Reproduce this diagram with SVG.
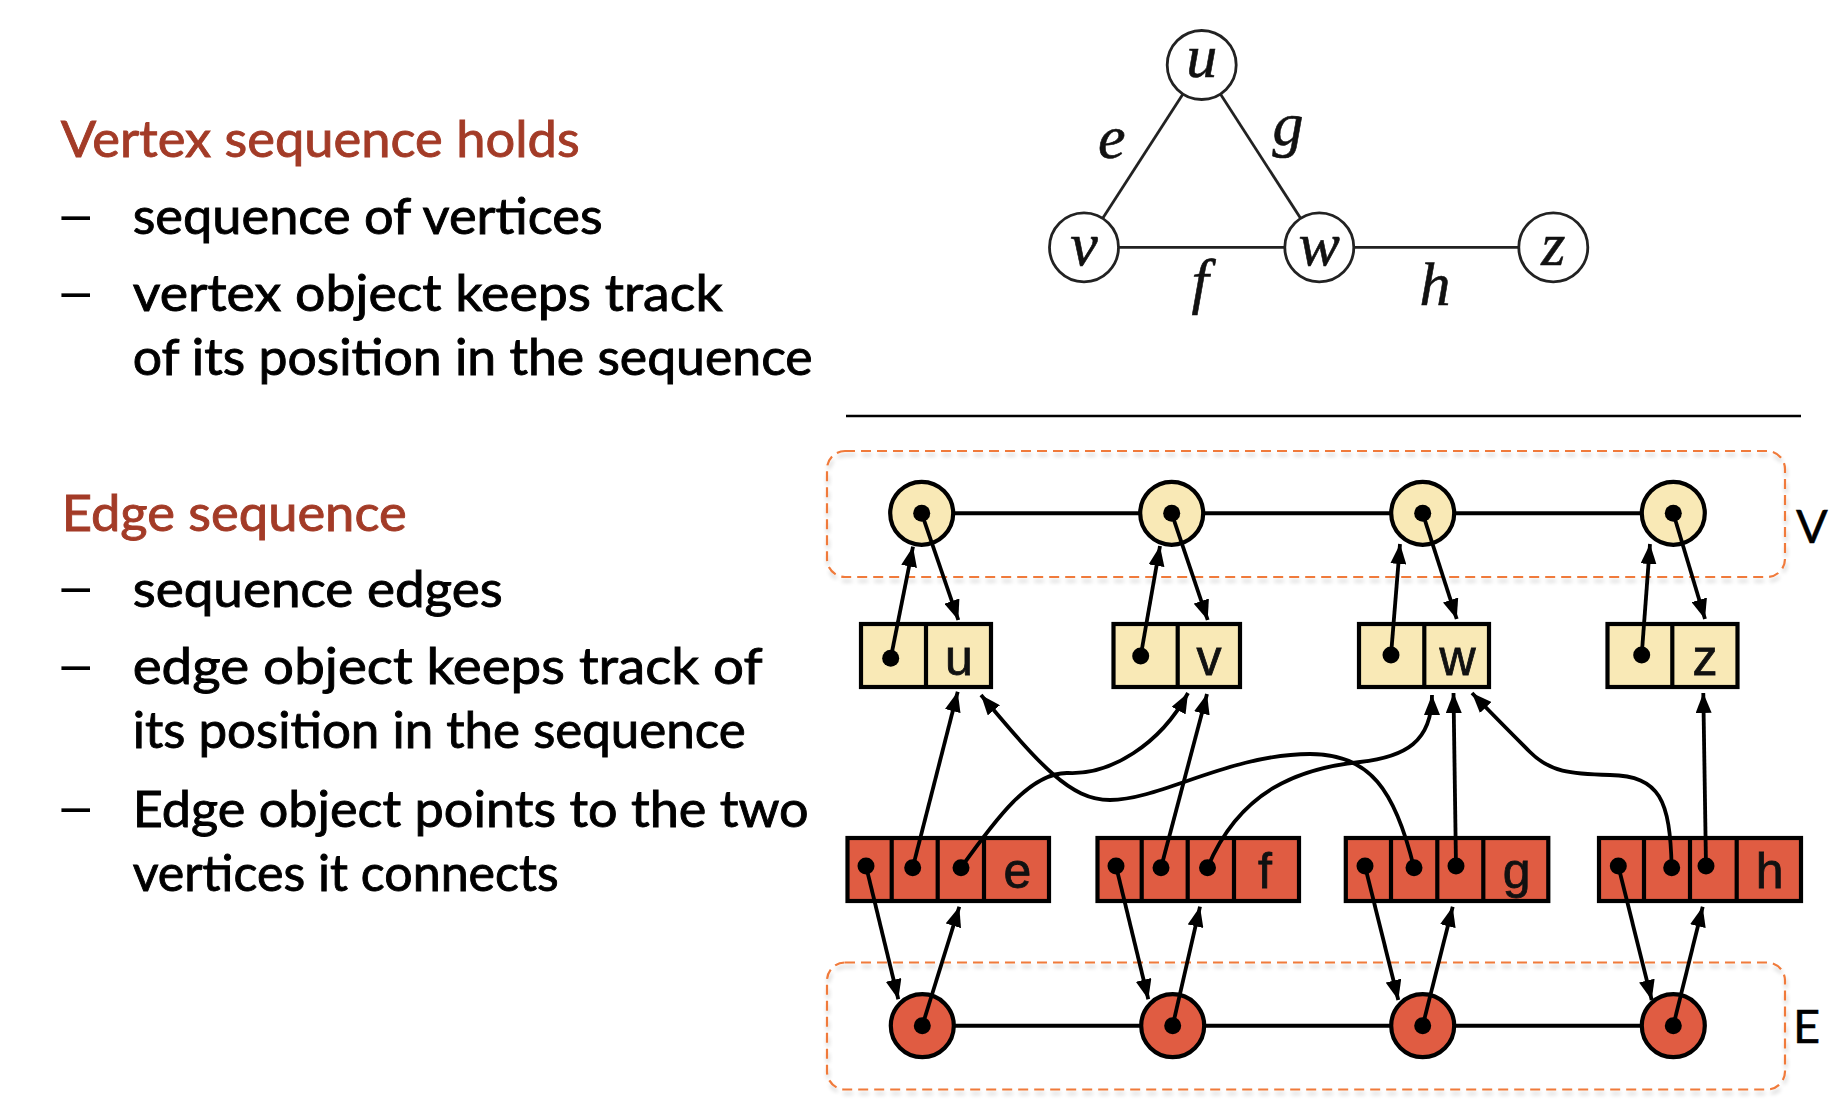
<svg xmlns="http://www.w3.org/2000/svg" width="1848" height="1120" viewBox="0 0 1848 1120">
<style>
.head{font-family:Lato,"Open Sans","Liberation Sans",sans-serif;font-size:51px;fill:#a33b27;stroke:#a33b27;stroke-width:0.9}
.body{font-family:Lato,"Open Sans","Liberation Sans",sans-serif;font-size:51px;fill:#000;stroke:#000;stroke-width:0.9}
.bul{font-family:Lato,"Open Sans","Liberation Sans",sans-serif;font-size:51px;fill:#000}
.gl{font-family:"Liberation Serif","DejaVu Serif",serif;font-style:italic;font-size:62px;fill:#111;stroke:#111;stroke-width:0.6;text-anchor:middle}
.gc{fill:#fff;stroke:#222;stroke-width:2.8}
.ge{stroke:#222;stroke-width:2.8;fill:none}
.lbl{font-family:"Liberation Sans",Arial,sans-serif;font-size:50px;fill:#111;stroke:#111;stroke-width:0.8;text-anchor:middle}
.side{font-family:Lato,"Liberation Sans",sans-serif;font-size:47px;fill:#000;stroke:#000;stroke-width:0.5}
.vc{fill:#f9e9b6;stroke:#000;stroke-width:4.2}
.ec{fill:#e05c42;stroke:#000;stroke-width:4.2}
.cell{stroke:#000;stroke-width:4.2}
.dot{fill:#000}
.chain{stroke:#000;stroke-width:4;fill:none}
.dash{fill:none;stroke:#f07a3a;stroke-width:2.2;stroke-dasharray:10 6}
.con{stroke:#000;stroke-width:3.8;fill:none;marker-end:url(#arr)}
</style>
<defs>
<marker id="arr" viewBox="0 0 20 16" refX="20" refY="8" markerWidth="20" markerHeight="16" markerUnits="userSpaceOnUse" orient="auto">
<path d="M0,0 L20,8 L0,16 z" fill="#000"/>
</marker>
<filter id="sh" x="-5%" y="-10%" width="110%" height="130%">
<feGaussianBlur in="SourceAlpha" stdDeviation="2"/>
<feOffset dx="1" dy="4"/>
<feComponentTransfer><feFuncA type="linear" slope="0.22"/></feComponentTransfer>
<feMerge><feMergeNode/><feMergeNode in="SourceGraphic"/></feMerge>
</filter>
</defs>
<rect width="1848" height="1120" fill="#fff"/>

<g id="left-text">
<text class="head" x="60.7" y="157.3" textLength="519" lengthAdjust="spacingAndGlyphs">Vertex sequence holds</text>
<text class="bul" transform="translate(55,235) scale(1.4,1.1)">–</text>
<text class="body" x="132.7" y="234" textLength="470" lengthAdjust="spacingAndGlyphs">sequence of vertices</text>
<text class="bul" transform="translate(55,311.7) scale(1.4,1.1)">–</text>
<text class="body" x="132.7" y="310.7" textLength="590" lengthAdjust="spacingAndGlyphs">vertex object keeps track</text>
<text class="body" x="132.7" y="375" textLength="680" lengthAdjust="spacingAndGlyphs">of its position in the sequence</text>
<text class="head" x="61.7" y="530.7" textLength="345" lengthAdjust="spacingAndGlyphs">Edge sequence</text>
<text class="bul" transform="translate(55,607.3) scale(1.4,1.1)">–</text>
<text class="body" x="132.7" y="607.3" textLength="370" lengthAdjust="spacingAndGlyphs">sequence edges</text>
<text class="bul" transform="translate(55,685) scale(1.4,1.1)">–</text>
<text class="body" x="132.7" y="684" textLength="630" lengthAdjust="spacingAndGlyphs">edge object keeps track of</text>
<text class="body" x="132.7" y="748.3" textLength="613" lengthAdjust="spacingAndGlyphs">its position in the sequence</text>
<text class="bul" transform="translate(55,826.7) scale(1.4,1.1)">–</text>
<text class="body" x="132.7" y="826.7" textLength="676" lengthAdjust="spacingAndGlyphs">Edge object points to the two</text>
<text class="body" x="132.7" y="890.7" textLength="426" lengthAdjust="spacingAndGlyphs">vertices it connects</text>
</g>

<g id="graph-edges">
<line class="ge" x1="1201.7" y1="65" x2="1084" y2="247.3"/>
<line class="ge" x1="1201.7" y1="65" x2="1319.3" y2="247.3"/>
<line class="ge" x1="1084" y1="247.3" x2="1319.3" y2="247.3"/>
<line class="ge" x1="1319.3" y1="247.3" x2="1553.3" y2="247.3"/>
<text class="gl" x="1111.7" y="158">e</text>
<text class="gl" x="1288" y="145">g</text>
<text class="gl" x="1200" y="302">f</text>
<text class="gl" x="1435" y="305">h</text>
</g>
<g id="graph-u"><circle class="gc" cx="1201.7" cy="65" r="34.5"/><text class="gl" x="1201.7" y="77">u</text></g>
<g id="graph-v"><circle class="gc" cx="1084" cy="247.3" r="34.5"/><text class="gl" x="1084" y="265">v</text></g>
<g id="graph-w"><circle class="gc" cx="1319.3" cy="247.3" r="34.5"/><text class="gl" x="1319.3" y="265">w</text></g>
<g id="graph-z"><circle class="gc" cx="1553.3" cy="247.3" r="34.5"/><text class="gl" x="1553.3" y="265">z</text></g>

<line id="rule" x1="846" y1="416" x2="1801" y2="416" stroke="#000" stroke-width="2.4"/>

<g id="V-container">
<rect class="dash" filter="url(#sh)" x="827" y="451" width="958" height="126" rx="18"/>
<text class="side" x="1796" y="542.7">V</text>
<line class="chain" x1="921.7" y1="513.3" x2="1673.3" y2="513.3"/>
</g>
<g id="E-container">
<rect class="dash" filter="url(#sh)" x="827" y="962.5" width="958" height="127" rx="18"/>
<text class="side" x="1793" y="1042.7">E</text>
<line class="chain" x1="922.3" y1="1025.7" x2="1673.3" y2="1025.7"/>
</g>

<g id="vpos-1"><circle class="vc" cx="921.7" cy="513.3" r="31.5"/><circle class="dot" cx="921.7" cy="513.3" r="8.5"/></g>
<g id="vpos-2"><circle class="vc" cx="1171.7" cy="513.3" r="31.5"/><circle class="dot" cx="1171.7" cy="513.3" r="8.5"/></g>
<g id="vpos-3"><circle class="vc" cx="1422.7" cy="513.3" r="31.5"/><circle class="dot" cx="1422.7" cy="513.3" r="8.5"/></g>
<g id="vpos-4"><circle class="vc" cx="1673.3" cy="513.3" r="31.5"/><circle class="dot" cx="1673.3" cy="513.3" r="8.5"/></g>

<g id="vertex-u"><rect class="vc" x="861" y="624" width="130" height="63"/><line class="cell" x1="926" y1="624" x2="926" y2="687"/><circle class="dot" cx="890.7" cy="658.3" r="8.5"/><text class="lbl" x="959" y="675">u</text></g>
<g id="vertex-v"><rect class="vc" x="1113.5" y="624" width="126.5" height="63"/><line class="cell" x1="1177.7" y1="624" x2="1177.7" y2="687"/><circle class="dot" cx="1140.7" cy="656" r="8.5"/><text class="lbl" x="1209" y="675">v</text></g>
<g id="vertex-w"><rect class="vc" x="1359" y="624" width="130" height="63"/><line class="cell" x1="1424.3" y1="624" x2="1424.3" y2="687"/><circle class="dot" cx="1391" cy="655" r="8.5"/><text class="lbl" x="1457.5" y="675">w</text></g>
<g id="vertex-z"><rect class="vc" x="1607.5" y="624" width="130" height="63"/><line class="cell" x1="1672.3" y1="624" x2="1672.3" y2="687"/><circle class="dot" cx="1641.7" cy="655" r="8.5"/><text class="lbl" x="1705" y="675">z</text></g>

<g id="edge-e"><rect class="ec" x="847.5" y="838" width="201.5" height="63"/><line class="cell" x1="891.7" y1="838" x2="891.7" y2="901"/><line class="cell" x1="937.7" y1="838" x2="937.7" y2="901"/><line class="cell" x1="984" y1="838" x2="984" y2="901"/><circle class="dot" cx="866" cy="866" r="8.5"/><circle class="dot" cx="912.7" cy="867.7" r="8.5"/><circle class="dot" cx="961" cy="867.7" r="8.5"/><text class="lbl" x="1017.3" y="888">e</text></g>
<g id="edge-f"><rect class="ec" x="1097.5" y="838" width="201.5" height="63"/><line class="cell" x1="1141.7" y1="838" x2="1141.7" y2="901"/><line class="cell" x1="1187.7" y1="838" x2="1187.7" y2="901"/><line class="cell" x1="1234" y1="838" x2="1234" y2="901"/><circle class="dot" cx="1116" cy="866" r="8.5"/><circle class="dot" cx="1161" cy="867.7" r="8.5"/><circle class="dot" cx="1207.5" cy="867.7" r="8.5"/><text class="lbl" x="1265" y="888">f</text></g>
<g id="edge-g"><rect class="ec" x="1345.8" y="838" width="202.5" height="63"/><line class="cell" x1="1391" y1="838" x2="1391" y2="901"/><line class="cell" x1="1437.3" y1="838" x2="1437.3" y2="901"/><line class="cell" x1="1483.3" y1="838" x2="1483.3" y2="901"/><circle class="dot" cx="1365" cy="866" r="8.5"/><circle class="dot" cx="1414" cy="867.7" r="8.5"/><circle class="dot" cx="1456" cy="866" r="8.5"/><text class="lbl" x="1516.7" y="888">g</text></g>
<g id="edge-h"><rect class="ec" x="1599" y="838" width="202" height="63"/><line class="cell" x1="1644" y1="838" x2="1644" y2="901"/><line class="cell" x1="1690" y1="838" x2="1690" y2="901"/><line class="cell" x1="1736.7" y1="838" x2="1736.7" y2="901"/><circle class="dot" cx="1618.3" cy="866" r="8.5"/><circle class="dot" cx="1671.7" cy="867.7" r="8.5"/><circle class="dot" cx="1706" cy="866" r="8.5"/><text class="lbl" x="1769.7" y="888">h</text></g>

<g id="epos-1"><circle class="ec" cx="922.3" cy="1025.7" r="31.5"/><circle class="dot" cx="922.3" cy="1025.7" r="8.5"/></g>
<g id="epos-2"><circle class="ec" cx="1172.7" cy="1025.7" r="31.5"/><circle class="dot" cx="1172.7" cy="1025.7" r="8.5"/></g>
<g id="epos-3"><circle class="ec" cx="1422.7" cy="1025.7" r="31.5"/><circle class="dot" cx="1422.7" cy="1025.7" r="8.5"/></g>
<g id="epos-4"><circle class="ec" cx="1673.3" cy="1025.7" r="31.5"/><circle class="dot" cx="1673.3" cy="1025.7" r="8.5"/></g>

<g id="connectors">
<path class="con" d="M890.7,658.3 L913,546.7"/>
<path class="con" d="M921.7,513.3 L958.3,620"/>
<path class="con" d="M1140.7,656 L1160,546"/>
<path class="con" d="M1171.7,513.3 L1207.7,620"/>
<path class="con" d="M1391,655 L1400,544"/>
<path class="con" d="M1422.7,513.3 L1456.7,619"/>
<path class="con" d="M1641.7,655 L1650,544"/>
<path class="con" d="M1673.3,513.3 L1705,619"/>
<path class="con" d="M866,866 L898.3,999.3"/>
<path class="con" d="M922.3,1025.7 L959.3,906.7"/>
<path class="con" d="M1116,866 L1148.3,999.3"/>
<path class="con" d="M1172.7,1025.7 L1200,906.7"/>
<path class="con" d="M1365,866 L1398.3,1000"/>
<path class="con" d="M1422.7,1025.7 L1452.7,906.7"/>
<path class="con" d="M1618.3,866 L1651.7,1000"/>
<path class="con" d="M1673.3,1025.7 L1702.7,906.7"/>
<path class="con" d="M912.7,867.7 L957.7,691.7"/>
<path class="con" d="M961,867.7 C995,820 1030,772 1068,773 C1110,775 1160,745 1188,693"/>
<path class="con" d="M1161,867.7 L1207,694"/>
<path class="con" d="M1207.5,867.7 C1240,790 1300,768 1360,762 C1405,757 1432,742 1432,695"/>
<path class="con" d="M1414,867.7 C1395,790 1370,754 1310,754 C1230,754 1160,800 1110,800 C1070,800 1040,765 981,695"/>
<path class="con" d="M1456,866 L1453.5,693"/>
<path class="con" d="M1671.7,867.7 C1670,800 1660,776 1610,775 C1570,774 1550,772 1530,752 C1510,732 1490,712 1472,693"/>
<path class="con" d="M1706,866 L1703.3,693"/>
</g>
</svg>
